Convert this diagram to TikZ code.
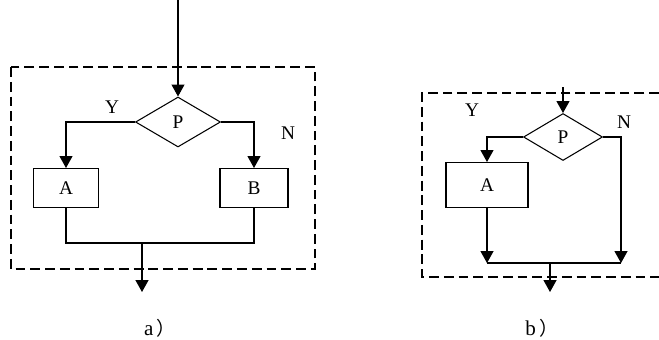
\documentclass[tikz,border=0pt]{standalone}
\usepackage{fontspec}
\setmainfont{Liberation Serif}
\newfontfamily\cjk{Noto Sans CJK SC}[Scale=0.9]
\usetikzlibrary{arrows.meta}
\usetikzlibrary{shapes.geometric}
\tikzset{
  flow/.style={line width=0.6pt},
  arr/.style={flow, -{Triangle[length=6.8pt,width=7.4pt]}},
  decision/.style={draw, flow, diamond, inner sep=0pt},
  procbox/.style={draw, flow, rectangle, inner sep=0pt},
  dashbox/.style={flow, dash pattern=on 5.6pt off 2.8pt},
  lbl/.style={font=\fontsize{11}{13}\selectfont},
  caplbl/.style={font=\fontsize{12}{14}\selectfont},
}

\begin{document}
\begin{tikzpicture}[x=0.02cm, y=-0.02cm, every node/.style={lbl}]
\useasboundingbox (0,0) rectangle (659,339);
% a)
\draw [dashbox] (11,67) rectangle (315,269);
\node [decision, minimum width=1.7cm, minimum height=1cm] (Pa) at (178,122) {P};
\node [procbox, minimum width=1.3cm, minimum height=0.78cm] (Aa) at (66,188) {A};
\node [procbox, minimum width=1.36cm, minimum height=0.78cm] (Ba) at (254,188) {B};
\coordinate (inA) at (178,0);
\coordinate (ja) at (142,243);
\coordinate (outA) at (142,292);
\draw [arr] (inA) -- (Pa.north);
\draw [arr] (Pa.west) -| (Aa.north);
\draw [arr] (Pa.east) -| (Ba.north);
\draw [flow] (Aa.south) |- (ja) -| (Ba.south);
\draw [arr] (ja) -- (outA);
\node (Ya) at (112,107) {Y};
\node (Na) at (288,133) {N};
\node [caplbl] (capA) at (160,328) {a\,\cjk{）}};
% b)
\draw [dashbox] (659,93) -- (422,93) -- (422,277) -- (659,277);
\node [decision, minimum width=1.58cm, minimum height=0.94cm] (Pb) at (563,137) {P};
\node [procbox, minimum width=1.64cm, minimum height=0.9cm] (Ab) at (487,185) {A};
\coordinate (inB) at (563,87);
\coordinate (jl) at (487,263);
\coordinate (jr) at (621,263);
\coordinate (jb) at (550,263);
\coordinate (outB) at (550,292);
\draw [arr] (inB) -- (Pb.north);
\draw [arr] (Pb.west) -| (Ab.north);
\draw [arr] (Ab.south) -- (jl);
\draw [arr] (Pb.east) -| (jr);
\draw [flow] (jl) -- (jr);
\draw [arr] (jb) -- (outB);
\node (Yb) at (472,110) {Y};
\node (Nb) at (624,122) {N};
\node [caplbl] (capB) at (542,328) {b\,\cjk{）}};
\end{tikzpicture}
\end{document}
